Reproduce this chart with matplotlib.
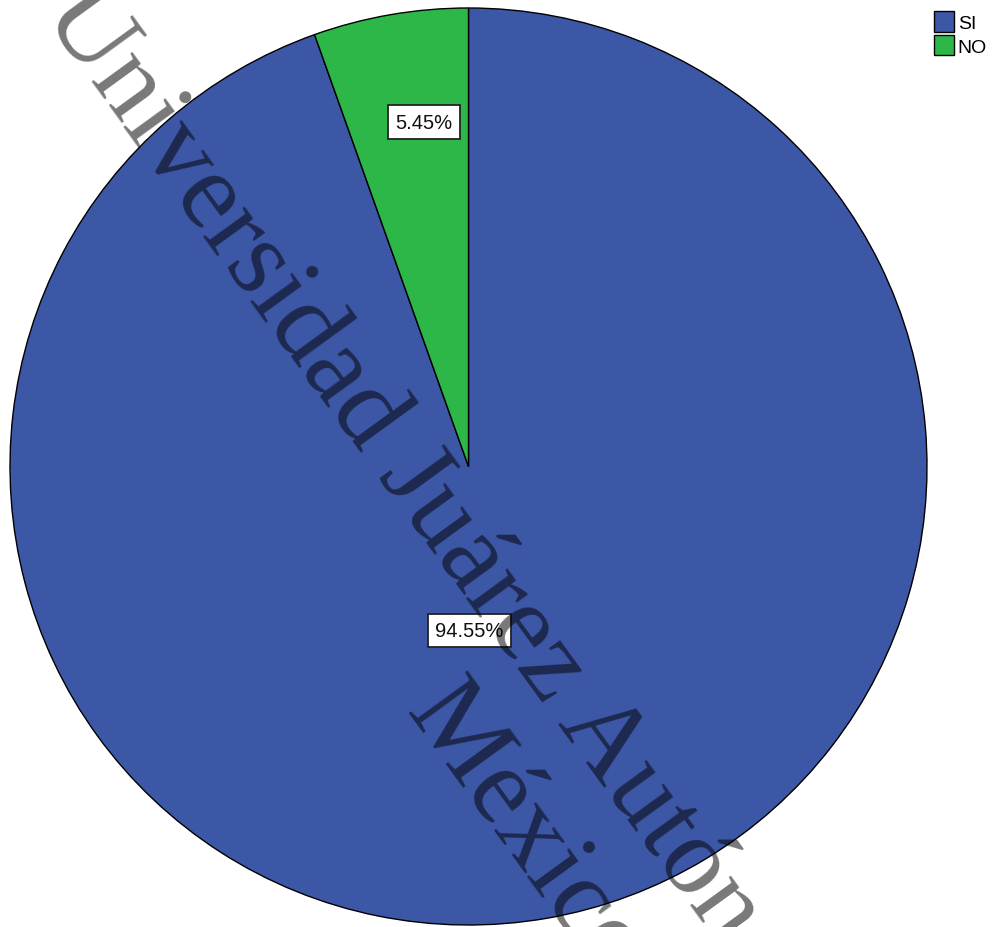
import numpy as np
import matplotlib
matplotlib.use("Agg")
import matplotlib.pyplot as plt

# ---- data ----
categories = ["SI", "NO"]
values = [94.55, 5.45]
colors = ["#3D57A7", "#2DB748"]
pct_labels = ["94.55%", "5.45%"]

W, H = 994, 928
fig = plt.figure(figsize=(W / 100, H / 100), dpi=100)
fig.patch.set_facecolor("white")

# pie area: center (468.5, 467.5) px, radius 458.5 px
cx, cy, r = 468.5, 467.5, 458.5
ax = fig.add_axes([(cx - r) / W, (H - cy - r) / H, 2 * r / W, 2 * r / H])
wedges, _ = ax.pie(values, colors=colors, startangle=90, counterclock=False,
                   radius=1.0, wedgeprops=dict(edgecolor="black", linewidth=1.0))
ax.set_xlim(-1, 1)
ax.set_ylim(-1, 1)
ax.set_aspect("equal")
ax.axis("off")

# percentage labels (positions relative to pie)
label_pos = {"SI": (0.002, -0.358), "NO": (-0.097, 0.751)}
for cat, lab in zip(categories, pct_labels):
    x, y = label_pos[cat]
    ax.text(x, y, lab, ha="center", va="center", fontsize=14.5,
            family="Liberation Sans", color="#111111", zorder=5,
            bbox=dict(boxstyle="square,pad=0.36", facecolor="white",
                      edgecolor="#222222", linewidth=1.3))

# legend
leg = fig.legend(wedges, categories, loc="upper left",
                 bbox_to_anchor=(934 / W, 1 - 12 / H), frameon=False,
                 prop=dict(family="Liberation Sans", size=14),
                 handlelength=1.02, handleheight=1.25, handletextpad=0.2,
                 labelspacing=0.15, borderpad=0, borderaxespad=0)

# watermark
ang = -54
wm = dict(rotation=ang, rotation_mode="anchor", ha="left", va="baseline",
          fontsize=80, family="Liberation Serif", color="black", alpha=0.53,
          zorder=10)
fig.text(42 / W, 1 - 14 / H, "Universidad Juárez Autónoma de Tabasco", **wm)
fig.text(405 / W, 1 - 712 / H, "México", **wm)

fig.savefig("out.png", dpi=100)
